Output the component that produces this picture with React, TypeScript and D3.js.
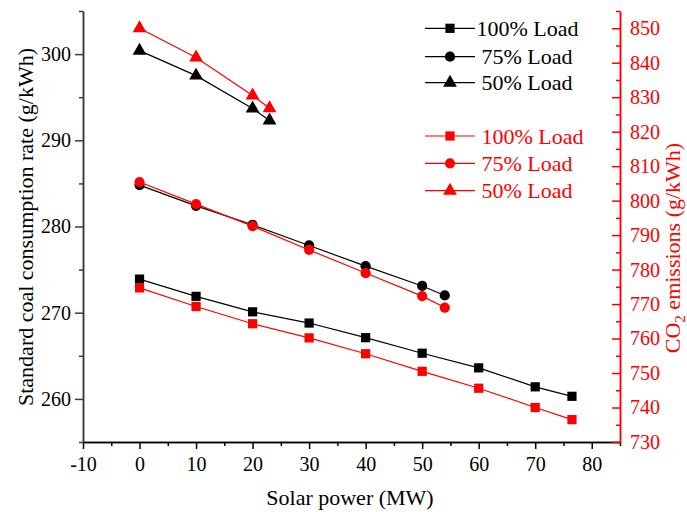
import { useEffect, useRef } from 'react';
import * as d3 from 'd3';

// solar power (MW) for each load case
const xFull = [0, 10, 20, 30, 40, 50, 60, 70, 76.5];
const xThreeQuarter = [0, 10, 20, 30, 40, 50, 54];
const xHalf = [0, 10, 20, 23];

// standard coal consumption rate (g/kWh), left axis
const coalFull = [273.9, 271.9, 270.1, 268.8, 267.1, 265.3, 263.6, 261.4, 260.3];
const coalThreeQuarter = [284.8, 282.4, 280.2, 277.8, 275.4, 273.1, 272.0];
const coalHalf = [300.4, 297.5, 293.7, 292.3];

// CO2 emissions (g/kWh), right axis
const co2Full = [774.7, 769.3, 764.3, 760.2, 755.6, 750.5, 745.6, 740.0, 736.5];
const co2ThreeQuarter = [805.4, 799.0, 792.6, 785.7, 779.0, 772.3, 769.0];
const co2Half = [850.0, 841.5, 830.5, 826.8];

const loadLabels = ['100% Load', '75% Load', '50% Load'];

const xTicks = [-10, 0, 10, 20, 30, 40, 50, 60, 70, 80];
const leftTicks = [260, 270, 280, 290, 300];
const rightTicks = [730, 740, 750, 760, 770, 780, 790, 800, 810, 820, 830, 840, 850];

const FONT = '"Liberation Serif", "Times New Roman", serif';

const App = () => {
  const svgRef = useRef<SVGSVGElement>(null);

  useEffect(() => {
    const svg = d3.select(svgRef.current);
    svg.selectAll('*').remove();

    const left = 83, right = 620, top = 11, bottom = 442;

    const x = d3.scaleLinear().domain([-10, 85]).range([left, right]);
    const yLeft = d3.scaleLinear().domain([255, 305]).range([bottom, top]);
    const yRight = d3.scaleLinear().domain([730, 855]).range([bottom, top]);

    const symbols = [d3.symbolSquare, d3.symbolCircle, d3.symbolTriangle];
    const sizes = [85, 82, 82];

    // minor ticks
    const minor = (major: number[], lo: number, hi: number) =>
      d3.range(lo, hi + 0.001, 5).filter(v => !major.includes(v));

    // bottom axis
    const gx = svg.append('g').attr('transform', `translate(0,${bottom})`);
    gx.append('g')
      .call(d3.axisBottom(x).tickValues(minor(xTicks, -10, 85)).tickSize(4).tickSizeOuter(0).tickFormat(() => ''));
    gx.append('g')
      .call(d3.axisBottom(x).tickValues(xTicks).tickSize(7).tickPadding(8).tickSizeOuter(0).tickFormat(d => String(d)));
    gx.selectAll('path').attr('stroke', '#000').attr('stroke-width', 1.5);
    gx.selectAll('line').attr('stroke', '#000').attr('stroke-width', 1.5);
    gx.selectAll('text').attr('font-family', FONT).attr('font-size', 20).attr('fill', '#000');

    // left axis
    const gl = svg.append('g').attr('transform', `translate(${left},0)`);
    gl.append('g')
      .call(d3.axisLeft(yLeft).tickValues(minor(leftTicks, 255, 305)).tickSize(4).tickSizeOuter(0).tickFormat(() => ''));
    gl.append('g')
      .call(d3.axisLeft(yLeft).tickValues(leftTicks).tickSize(8).tickPadding(4).tickSizeOuter(0));
    gl.selectAll('path').attr('stroke', '#3a3a3a').attr('stroke-width', 1.5);
    gl.selectAll('line').attr('stroke', '#3a3a3a').attr('stroke-width', 1.5);
    gl.selectAll('text').attr('font-family', FONT).attr('font-size', 20).attr('fill', '#000');

    // right axis (ticks point inward)
    const gr = svg.append('g').attr('transform', `translate(${right},0)`);
    gr.append('g')
      .call(d3.axisRight(yRight).tickValues(minor(rightTicks, 730, 855)).tickSize(-4).tickSizeOuter(0).tickFormat(() => ''));
    gr.append('g')
      .call(d3.axisRight(yRight).tickValues(rightTicks).tickSize(-8).tickPadding(10).tickSizeOuter(0));
    gr.selectAll('path').attr('stroke', 'red').attr('stroke-width', 1.5);
    gr.selectAll('line').attr('stroke', 'red').attr('stroke-width', 1.5);
    gr.selectAll('text').attr('font-family', FONT).attr('font-size', 20).attr('fill', 'red');

    // axis titles
    svg.append('text')
      .attr('x', 350).attr('y', 505)
      .attr('text-anchor', 'middle')
      .attr('font-family', FONT).attr('font-size', 22)
      .text('Solar power (MW)');

    svg.append('text')
      .attr('transform', 'translate(25,227) rotate(-90)')
      .attr('text-anchor', 'middle').attr('dy', '0.35em')
      .attr('font-family', FONT).attr('font-size', 22)
      .text('Standard coal consumption rate (g/kWh)');

    const co2Title = svg.append('text')
      .attr('transform', 'translate(672,248) rotate(-90)')
      .attr('text-anchor', 'middle').attr('dy', '0.35em')
      .attr('font-family', FONT).attr('font-size', 22).attr('fill', 'red');
    co2Title.append('tspan').text('CO');
    co2Title.append('tspan').attr('font-size', 15).attr('dy', 5).text('2');
    co2Title.append('tspan').attr('dy', -5).text(' emissions (g/kWh)');

    // series
    const groups = [
      { color: '#000', y: yLeft, xs: [xFull, xThreeQuarter, xHalf], ys: [coalFull, coalThreeQuarter, coalHalf] },
      { color: 'red', y: yRight, xs: [xFull, xThreeQuarter, xHalf], ys: [co2Full, co2ThreeQuarter, co2Half] },
    ];

    groups.forEach(grp => {
      grp.xs.forEach((xs, i) => {
        const pts: [number, number][] = xs.map((v, j) => [x(v), grp.y(grp.ys[i][j])]);
        svg.append('path')
          .attr('d', d3.line()(pts))
          .attr('fill', 'none')
          .attr('stroke', grp.color)
          .attr('stroke-width', 1.2);
        svg.append('g').selectAll('path')
          .data(pts)
          .enter()
          .append('path')
          .attr('transform', d => `translate(${d[0]},${d[1]})`)
          .attr('d', d3.symbol(symbols[i], sizes[i])())
          .attr('fill', grp.color);
      });
    });

    // legend
    const legendRows = [[28.3, 56.7, 82.7], [136, 163.3, 190.7]];
    const legendTextX = [[476.5, 481.5, 481.5], [481.5, 481.5, 481.5]];
    groups.forEach((grp, g) => {
      loadLabels.forEach((label, i) => {
        const yy = legendRows[g][i];
        svg.append('line')
          .attr('x1', 425).attr('x2', 475).attr('y1', yy).attr('y2', yy)
          .attr('stroke', grp.color).attr('stroke-width', 1.2);
        svg.append('path')
          .attr('transform', `translate(450,${yy})`)
          .attr('d', d3.symbol(symbols[i], sizes[i])())
          .attr('fill', grp.color);
        svg.append('text')
          .attr('x', legendTextX[g][i]).attr('y', yy).attr('dy', '0.35em')
          .attr('font-family', FONT).attr('font-size', 22).attr('fill', grp.color)
          .text(label);
      });
    });
  }, []);

  return (
    <svg
      ref={svgRef}
      width={687}
      height={512}
      style={{ position: 'absolute', left: 0, top: 0, background: '#fff' }}
    />
  );
};

export default App;
